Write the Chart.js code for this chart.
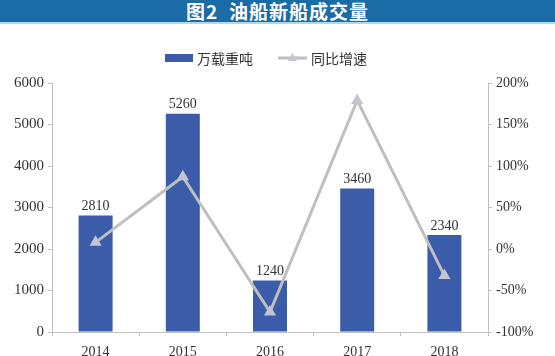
<!DOCTYPE html>
<html><head><meta charset="utf-8">
<script src="https://cdn.jsdelivr.net/npm/chart.js@4"></script>
<style>
html,body{margin:0;padding:0;background:#fff;}
#wrap{position:relative;width:555px;height:356px;overflow:hidden;}
#banner{position:absolute;left:0;top:0;width:555px;height:22px;background:#1a6ba6;border-bottom:2px solid #a8dbee;
color:#fff;font:bold 19px "Noto Sans CJK SC",sans-serif;letter-spacing:1px;text-align:center;line-height:22px;padding-left:0;box-sizing:content-box;}
canvas{position:absolute;left:0;top:0;}
</style></head>
<body><div id="wrap"><canvas id="c" width="555" height="356"></canvas><div id="banner">图2&nbsp;&nbsp;油船新船成交量</div></div>
<script>
const categories = ["2014","2015","2016","2017","2018"];
const tonnage = [2810, 5260, 1240, 3460, 2340];
const growth = [8, 87, -76, 179, -32];
const seriesNames = ["万载重吨","同比增速"];

const BAR = '#3b5ca9', LINE = '#bfbfbf', PT = '#c3c6d2', AX = '#bfbfbf', TXT = '#333';
const serif = '"Liberation Serif", "Times New Roman", serif';
const cjk = '"Noto Sans CJK SC", sans-serif';

const extras = {
  id: 'extras',
  afterDatasetsDraw(chart) {
    const ctx = chart.ctx;
    const meta = chart.getDatasetMeta(1);
    ctx.save();
    ctx.font = '14px ' + serif;
    ctx.fillStyle = TXT;
    ctx.textAlign = 'center';
    ctx.textBaseline = 'bottom';
    meta.data.forEach((el, i) => {
      ctx.fillText(String(tonnage[i]), el.x, el.y - 2);
    });
    ctx.restore();
  },
  afterDraw(chart) {
    const ctx = chart.ctx;
    ctx.save();
    const y = 58;
    ctx.fillStyle = BAR;
    ctx.fillRect(165, y - 4, 28, 8);
    ctx.font = '14px ' + cjk;
    ctx.fillStyle = TXT;
    ctx.textBaseline = 'middle';
    ctx.fillText(seriesNames[0], 197, y + 1);
    ctx.strokeStyle = LINE; ctx.lineWidth = 3;
    ctx.beginPath(); ctx.moveTo(278, y); ctx.lineTo(307, y); ctx.stroke();
    ctx.fillStyle = PT;
    ctx.beginPath(); ctx.moveTo(292.5, y - 5); ctx.lineTo(297, y + 3); ctx.lineTo(288, y + 3); ctx.closePath(); ctx.fill();
    ctx.fillStyle = TXT;
    ctx.fillText(seriesNames[1], 311, y + 1);
    ctx.restore();
  }
};

new Chart(document.getElementById('c'), {
  data: {
    labels: categories,
    datasets: [
      { type: 'line', label: seriesNames[1], data: growth, yAxisID: 'y1', order: 0,
        borderColor: LINE, borderWidth: 3, tension: 0, pointStyle: 'triangle',
        pointRadius: 7, pointBackgroundColor: PT, pointBorderColor: PT, pointBorderWidth: 0 },
      { type: 'bar', label: seriesNames[0], data: tonnage, yAxisID: 'y', order: 1,
        backgroundColor: BAR, categoryPercentage: 1, barPercentage: 0.39 }
    ]
  },
  options: {
    responsive: false, animation: false,
    layout: { padding: { top: 83, left: 0, right: 0, bottom: 0 } },
    plugins: { legend: { display: false }, tooltip: { enabled: false } },
    scales: {
      x: {
        offset: true,
        grid: { offset: true, drawOnChartArea: false, drawTicks: true, tickLength: 4, color: AX },
        border: { color: AX, width: 1 },
        ticks: { font: { family: serif, size: 14 }, color: TXT, padding: 8, maxRotation: 0 },
        afterFit(s) { s.height = 24; }
      },
      y: {
        position: 'left', min: 0, max: 6000,
        ticks: { stepSize: 1000, font: { family: serif, size: 15 }, color: TXT, padding: 4, callback: v => String(v) },
        grid: { drawOnChartArea: false, tickLength: 4, color: AX },
        border: { color: AX, width: 1 },
        afterFit(s) { s.width = 52; }
      },
      y1: {
        position: 'right', min: -100, max: 200,
        ticks: { stepSize: 50, font: { family: serif, size: 14 }, color: TXT, padding: 4, callback: v => v + '%' },
        grid: { drawOnChartArea: false, tickLength: 4, color: AX },
        border: { color: AX, width: 1 },
        afterFit(s) { s.width = 67; }
      }
    }
  },
  plugins: [extras]
});
</script></body></html>
